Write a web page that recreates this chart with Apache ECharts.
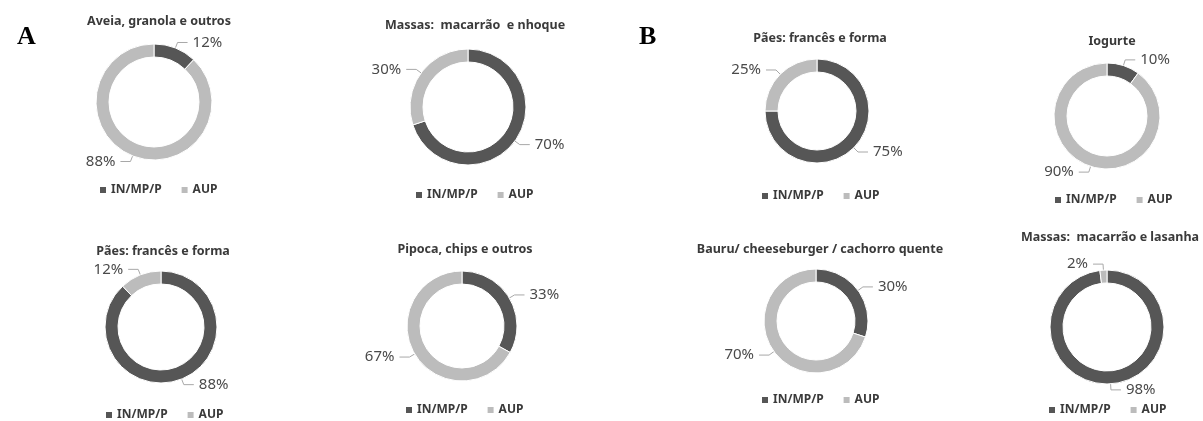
<!DOCTYPE html>
<html>
<head>
<meta charset="utf-8">
<title>IN/MP/P vs AUP</title>
<script src="https://cdn.jsdelivr.net/npm/echarts@6/dist/echarts.min.js"></script>
<style>
  html, body { margin: 0; padding: 0; background: #fff; }
  #chart { width: 1203px; height: 421px; }
</style>
</head>
<body>
<div id="chart"></div>
<script>
// dados: um donut por alimento
const titles = [
  'Aveia, granola e outros',
  'Massas:  macarrão  e nhoque',
  'Pães: francês e forma',
  'Iogurte',
  'Pães: francês e forma',
  'Pipoca, chips e outros',
  'Bauru/ cheeseburger / cachorro quente',
  'Massas:  macarrão e lasanha'
];
const seriesNames = ['IN/MP/P', 'AUP'];
const inmpValues = [12, 70, 75, 10, 88, 33, 30, 98];
const aupValues = [88, 30, 25, 90, 12, 67, 70, 2];
const panelLetters = ['A', 'B'];

// layout (px)
const pieCenters = [[154, 102], [468, 107], [817, 111], [1107, 116], [161, 327], [462, 326], [816, 321], [1107, 327]];
const pieRadius = [58, 58, 52, 53, 56, 55, 52, 57];
const titlePos = [[154, 19], [470, 23], [815, 36], [1107, 39], [158, 249], [460, 247], [815, 247], [1105, 235]];
const legendPos = [[156, 187], [472, 192], [818, 193], [1111, 197], [162, 412], [462, 407], [818, 397], [1105, 407]];
const letterPos = [[12, 19], [634, 19]];

const colors = ['#565656', '#bcbcbc'];

const chart = echarts.init(document.getElementById('chart'));

const title = [];
const legend = [];
const series = [];

for (let i = 0; i < titles.length; i++) {
  title.push({
    text: titles[i],
    left: titlePos[i][0],
    top: titlePos[i][1] - 9,
    textAlign: 'center',
    textStyle: {
      fontFamily: 'Noto Sans',
      fontWeight: 'bold',
      fontSize: 12.5,
      color: '#3a3a3a'
    }
  });

  legend.push({
    data: seriesNames,
    left: legendPos[i][0] - 63,
    top: legendPos[i][1] - 8,
    icon: 'rect',
    itemWidth: 8,
    itemHeight: 8,
    itemGap: 18,
    selectedMode: false,
    textStyle: {
      fontFamily: 'Noto Sans',
      fontWeight: 'bold',
      fontSize: 12,
      color: '#3a3a3a',
      padding: [0, 0, 0, -1]
    }
  });

  series.push({
    type: 'pie',
    center: pieCenters[i],
    radius: [pieRadius[i] - 13, pieRadius[i]],
    startAngle: 90,
    clockwise: true,
    silent: true,
    avoidLabelOverlap: false,
    itemStyle: { borderColor: '#fff', borderWidth: 1 },
    label: {
      show: true,
      position: 'outside',
      formatter: p => p.value + '%',
      fontFamily: 'Noto Sans',
      fontSize: 15,
      color: '#4a4a4a'
    },
    labelLine: {
      show: true,
      length: 6,
      length2: 10,
      lineStyle: { color: '#a8a8a8', width: 1 }
    },
    data: [
      { name: seriesNames[0], value: inmpValues[i], itemStyle: { color: colors[0] } },
      { name: seriesNames[1], value: aupValues[i], itemStyle: { color: colors[1] } }
    ]
  });
}

for (let k = 0; k < panelLetters.length; k++) {
  title.push({
    text: panelLetters[k],
    left: letterPos[k][0],
    top: letterPos[k][1],
    textStyle: {
      fontFamily: 'Liberation Serif',
      fontWeight: 'bold',
      fontSize: 26,
      color: '#000'
    }
  });
}

chart.setOption({
  animation: false,
  color: colors,
  title: title,
  legend: legend,
  series: series
});
</script>
</body>
</html>
